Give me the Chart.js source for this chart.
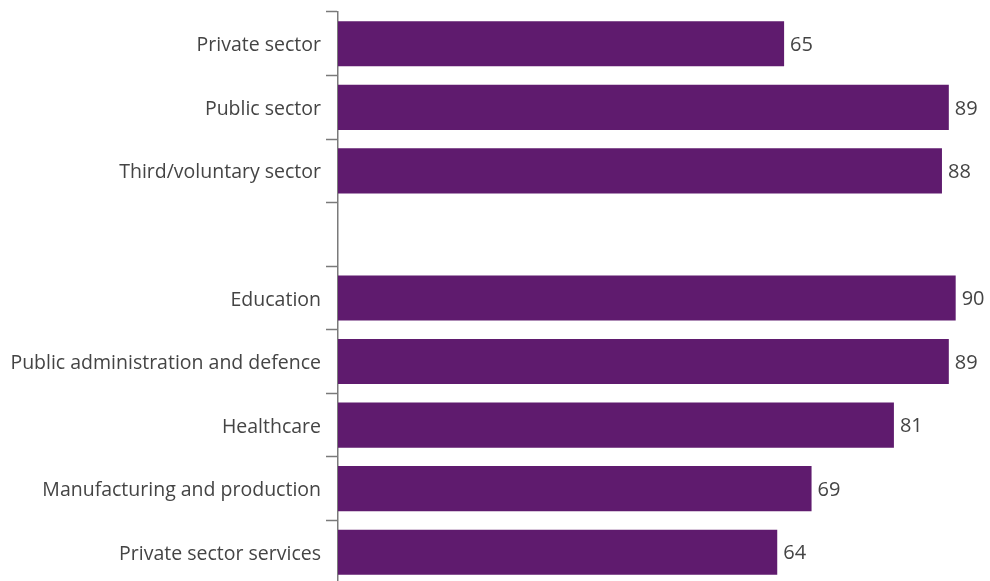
<!DOCTYPE html>
<html>
<head>
<meta charset="utf-8">
<script src="https://cdn.jsdelivr.net/npm/chart.js@4/dist/chart.umd.min.js"></script>
<style>
  html, body { margin: 0; padding: 0; background: #fff; overflow: hidden; }
  #wrap { width: 990px; height: 584px; }
</style>
</head>
<body>
<div id="wrap"><canvas id="barChart" width="990" height="584"></canvas></div>
<script>
// Sector groups first, then industries; the empty entry leaves a gap between them
var categories = [
    'Private sector',
    'Public sector',
    'Third/voluntary sector',
    '',
    'Education',
    'Public administration and defence',
    'Healthcare',
    'Manufacturing and production',
    'Private sector services'
];
var values = [65, 89, 88, null, 90, 89, 81, 69, 64];

var barColor = '#5f1b6e';
var textColor = '#444444';
var fontFamily = '"Open Sans", Lato, sans-serif';

// write the value just past the end of each bar
var valueLabels = {
    id: 'valueLabels',
    afterDatasetsDraw: function(chart) {
        var ctx = chart.ctx;
        var meta = chart.getDatasetMeta(0);
        ctx.save();
        ctx.font = '20px ' + fontFamily;
        ctx.fillStyle = textColor;
        ctx.textAlign = 'left';
        ctx.textBaseline = 'middle';
        meta.data.forEach(function(bar, i) {
            if (values[i] === null) return;
            ctx.fillText(values[i], bar.x + 6, bar.y + 1.5);
        });
        ctx.restore();
    }
};

var ctx = document.getElementById('barChart').getContext('2d');
var chart = new Chart(ctx, {
    type: 'bar',
    data: {
        labels: categories,
        datasets: [{
            data: values,
            backgroundColor: barColor,
            borderWidth: 0,
            categoryPercentage: 1,
            barPercentage: 0.71
        }]
    },
    options: {
        indexAxis: 'y',
        responsive: false,
        animation: false,
        layout: { padding: { top: 12, right: 0, bottom: 0, left: 0 } },
        plugins: {
            legend: { display: false },
            tooltip: { enabled: false }
        },
        scales: {
            x: {
                display: false,
                min: 0,
                max: 95
            },
            y: {
                afterFit: function(scale) {
                    scale.width = 338;
                    scale.paddingTop = 0;
                    scale.paddingBottom = 0;
                },
                grid: {
                    offset: true,
                    drawOnChartArea: false,
                    drawTicks: true,
                    tickLength: 12,
                    tickWidth: 1.5,
                    tickColor: '#7a7a7a'
                },
                border: { color: '#7a7a7a', width: 1.5 },
                ticks: {
                    padding: 5,
                    labelOffset: 2,
                    color: textColor,
                    font: { family: fontFamily, size: 19.5 }
                }
            }
        }
    },
    plugins: [valueLabels]
});
</script>
</body>
</html>
